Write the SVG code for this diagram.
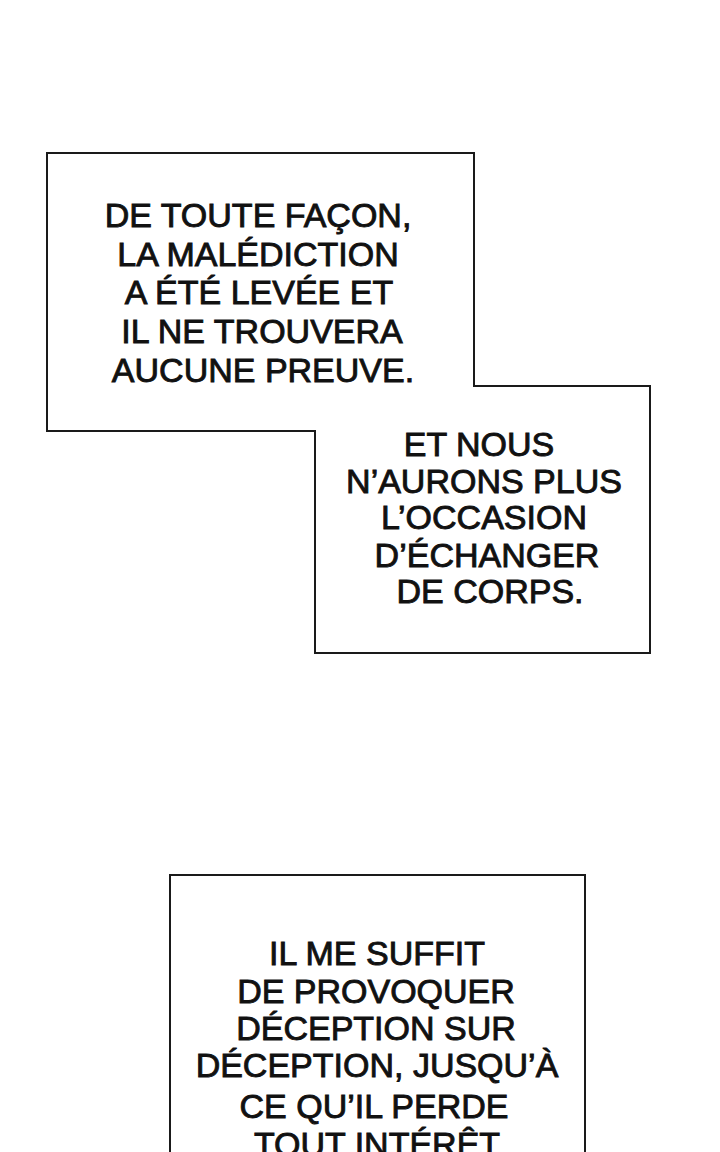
<svg xmlns="http://www.w3.org/2000/svg" width="720" height="1152" viewBox="0 0 720 1152">
<style>
.box{fill:#fff;stroke:#1a1a1a;stroke-width:2}
.t{font-family:"Liberation Sans",Arial,sans-serif;font-size:34px;fill:#111;stroke:#111;stroke-width:0.9;text-anchor:middle}
</style>
<rect width="720" height="1152" fill="#fff"/>
<g id="caption1-2">
<path class="box" d="M47,153 H474 V386 H650 V653 H315 V431 H47 Z"/>
<g id="caption1">
<text class="t" x="258" y="227">DE TOUTE FAÇON,</text>
<text class="t" x="258" y="266">LA MALÉDICTION</text>
<text class="t" x="259" y="304">A ÉTÉ LEVÉE ET</text>
<text class="t" x="262" y="343">IL NE TROUVERA</text>
<text class="t" x="263" y="382">AUCUNE PREUVE.</text>
</g>
<g id="caption2">
<text class="t" x="479" y="456">ET NOUS</text>
<text class="t" x="484" y="493">N’AURONS PLUS</text>
<text class="t" x="484" y="529">L’OCCASION</text>
<text class="t" x="487" y="567">D’ÉCHANGER</text>
<text class="t" x="490" y="603">DE CORPS.</text>
</g>
</g>
<g id="caption3">
<rect class="box" x="170" y="875" width="415" height="300"/>
<text class="t" x="377" y="965">IL ME SUFFIT</text>
<text class="t" x="376" y="1003">DE PROVOQUER</text>
<text class="t" x="376" y="1040">DÉCEPTION SUR</text>
<text class="t" x="377" y="1077">DÉCEPTION, JUSQU’À</text>
<text class="t" x="374" y="1118">CE QU’IL PERDE</text>
<text class="t" x="377" y="1156">TOUT INTÉRÊT</text>
</g>
<g id="connectors"/>
</svg>
